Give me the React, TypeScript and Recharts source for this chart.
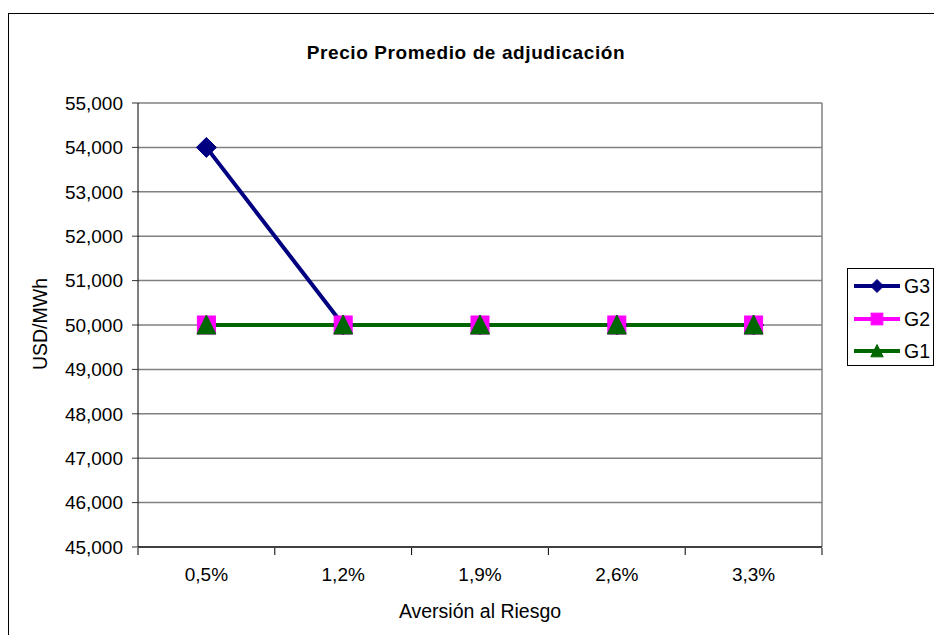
import React from 'react';
import {
  ComposedChart,
  Line,
  XAxis,
  YAxis,
  CartesianGrid,
  ReferenceLine,
  Legend,
} from 'recharts';

// Categories (risk aversion levels) and average awarded price per generator group
const categories = ['0,5%', '1,2%', '1,9%', '2,6%', '3,3%'];
const g3Values = [54000, 50000, 50000, 50000, 50000];
const g2Values = [50000, 50000, 50000, 50000, 50000];
const g1Values = [50000, 50000, 50000, 50000, 50000];
const yTicks = [45000, 46000, 47000, 48000, 49000, 50000, 51000, 52000, 53000, 54000, 55000];

const chartTitle = 'Precio Promedio de adjudicación';
const xTitle = 'Aversión al Riesgo';
const yTitle = 'USD/MWh';

type MarkerKind = 'diamond' | 'square' | 'triangle';

const series: { key: string; color: string; marker: MarkerKind; values: number[] }[] = [
  { key: 'G3', color: '#000080', marker: 'diamond', values: g3Values },
  { key: 'G2', color: '#FF00FF', marker: 'square', values: g2Values },
  { key: 'G1', color: '#006600', marker: 'triangle', values: g1Values },
];

// each row also carries its slot centre on a 0..n numeric scale (used for the boundary ticks)
const data = categories.map((cat, i) => {
  const row: Record<string, string | number> = { cat, slot: i + 0.5 };
  series.forEach((s) => {
    row[s.key] = s.values[i];
  });
  return row;
});

// category boundaries, used for the tick marks between categories
const edgeTicks = [...categories.map((_, i) => i), categories.length];

const FONT = '"Liberation Sans", Arial, Helvetica, sans-serif';

function MarkerShape({ kind, cx, cy, r, color }: { kind: MarkerKind; cx: number; cy: number; r: number; color: string }) {
  if (kind === 'diamond') {
    return <polygon points={`${cx},${cy - r} ${cx + r},${cy} ${cx},${cy + r} ${cx - r},${cy}`} fill={color} stroke={color} strokeWidth={1} />;
  }
  if (kind === 'square') {
    const h = r * 0.9;
    return <rect x={cx - h} y={cy - h} width={h * 2} height={h * 2} fill={color} stroke={color} strokeWidth={1} />;
  }
  return (
    <polygon
      points={`${cx},${cy - r} ${cx + r * 0.95},${cy + r * 0.9} ${cx - r * 0.95},${cy + r * 0.9}`}
      fill={color}
      stroke={color}
      strokeWidth={1}
    />
  );
}

function makeDot(kind: MarkerKind, color: string) {
  return (props: any) => {
    const { cx, cy, index } = props;
    if (cx == null || cy == null) return <g key={`d-${index}`} />;
    return <MarkerShape key={`d-${index}`} kind={kind} cx={cx} cy={cy} r={10} color={color} />;
  };
}

// boundary ticks carry only a tick mark, no label
const EmptyTick = () => <g />;

function LegendBox() {
  return (
    <div
      style={{
        border: '1px solid #000',
        background: '#fff',
        boxSizing: 'border-box',
        width: 87,
        height: 98,
        paddingTop: 1,
        fontFamily: FONT,
        fontSize: 19.5,
        color: '#000',
      }}
    >
      {series.map((s) => (
        <div key={s.key} style={{ display: 'flex', alignItems: 'center', height: 32.5 }}>
          <svg width={56} height={22} style={{ display: 'block' }}>
            <line x1={6} y1={11} x2={52} y2={11} stroke={s.color} strokeWidth={4} />
            <MarkerShape kind={s.marker} cx={29} cy={11} r={6.5} color={s.color} />
          </svg>
          <span style={{ lineHeight: '22px' }}>{s.key}</span>
        </div>
      ))}
    </div>
  );
}

export default function App() {
  return (
    <div style={{ position: 'relative', width: 926, height: 627, overflow: 'hidden', background: '#fff' }}>
      <div
        style={{
          position: 'absolute',
          left: 0,
          top: 5,
          width: 1000,
          height: 1000,
          border: '1px solid #000',
          boxSizing: 'border-box',
        }}
      />
      <ComposedChart
        width={926}
        height={627}
        data={data}
        margin={{ top: 95, right: 112, bottom: 86, left: 0 }}
        style={{ position: 'absolute', left: 0, top: 0, fontFamily: FONT }}
      >
        <CartesianGrid horizontal vertical={false} stroke="#808080" strokeWidth={1.5} xAxisId="cat" />
        <XAxis
          xAxisId="edges"
          dataKey="slot"
          type="number"
          domain={[0, categories.length]}
          ticks={edgeTicks}
          interval={0}
          height={1}
          tick={EmptyTick}
          axisLine={false}
          tickLine={{ stroke: '#000', strokeWidth: 1 }}
          tickSize={7}
          allowDataOverflow
        />
        <XAxis
          xAxisId="cat"
          dataKey="cat"
          scale="band"
          height={1}
          tickLine={false}
          tickSize={0}
          tickMargin={21}
          axisLine={{ stroke: '#404040', strokeWidth: 2 }}
          tick={{ fontSize: 19, fill: '#000', fontFamily: FONT }}
          interval={0}
        />
        <YAxis
          width={130}
          domain={[45000, 55000]}
          ticks={yTicks}
          allowDataOverflow
          tickFormatter={(v: number) => v.toLocaleString('en-US')}
          tickSize={6}
          tickMargin={9}
          axisLine={{ stroke: '#000', strokeWidth: 1 }}
          tickLine={{ stroke: '#333', strokeWidth: 1 }}
          tick={{ fontSize: 19, fill: '#000', fontFamily: FONT }}
        />
        <ReferenceLine xAxisId="edges" x={categories.length} stroke="#808080" strokeWidth={1.5} />
        {series.map((s) => (
          <Line
            key={s.key}
            xAxisId="cat"
            dataKey={s.key}
            name={s.key}
            stroke={s.color}
            strokeWidth={4}
            dot={makeDot(s.marker, s.color)}
            activeDot={false}
            isAnimationActive={false}
          />
        ))}
        <Legend
          layout="vertical"
          align="center"
          verticalAlign="middle"
          content={<LegendBox />}
          wrapperStyle={{ left: 839, top: 260, width: 87, height: 98 }}
        />
      </ComposedChart>
      <svg
        width={926}
        height={627}
        style={{ position: 'absolute', left: 0, top: 0, pointerEvents: 'none', fontFamily: FONT }}
      >
        <text x={458} y={51} textAnchor="middle" fontSize={19} fontWeight="bold" letterSpacing={0.6} fill="#000">
          {chartTitle}
        </text>
        <text x={472} y={610} textAnchor="middle" fontSize={19.5} fill="#000">
          {xTitle}
        </text>
        <text transform="translate(39,316) rotate(-90)" textAnchor="middle" fontSize={19.5} fill="#000">
          {yTitle}
        </text>
      </svg>
    </div>
  );
}
